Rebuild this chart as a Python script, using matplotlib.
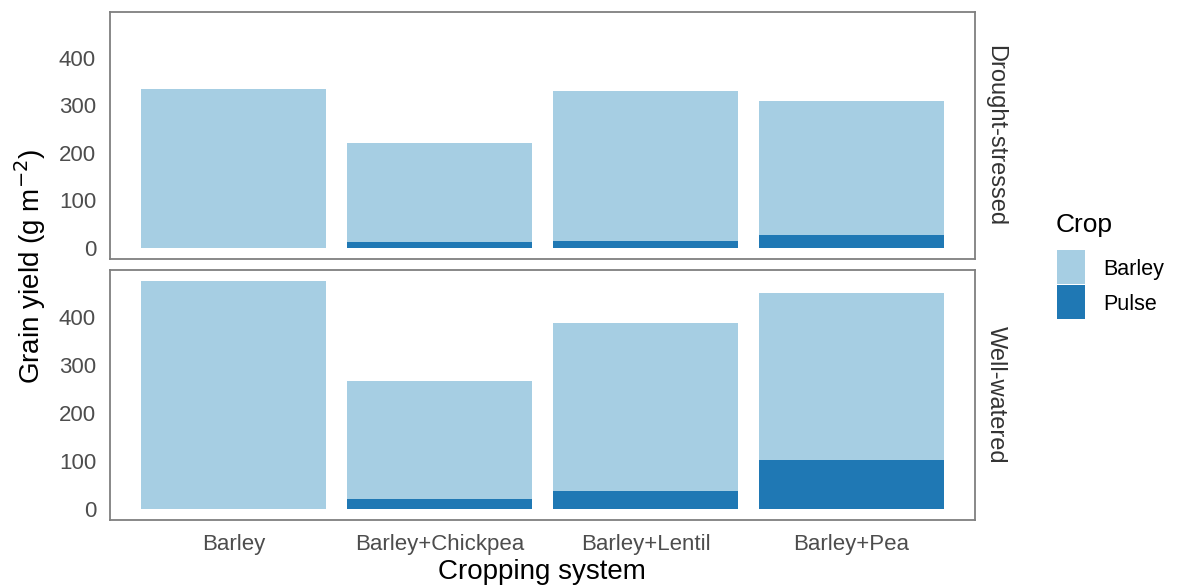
import matplotlib.pyplot as plt
import matplotlib.patches as mpatches
import numpy as np

plt.rcParams['font.family'] = ['Liberation Sans', 'DejaVu Sans']

systems = ['Barley', 'Barley+Chickpea', 'Barley+Lentil', 'Barley+Pea']
treatments = ['Drought-stressed', 'Well-watered']
crops = ['Barley', 'Pulse']
colors = {'Barley': '#a6cee3', 'Pulse': '#1f78b4'}

# grain yield (g m-2) per crop component
barley_yield = {'Drought-stressed': [335, 208, 316, 282],
                'Well-watered': [474, 245, 349, 347]}
pulse_yield = {'Drought-stressed': [0, 13, 15, 28],
               'Well-watered': [0, 21, 37, 102]}

W, H = 1179, 587
fig = plt.figure(figsize=(W / 100, H / 100), dpi=100)

def px_axes(x0, y0, x1, y1):
    return fig.add_axes([x0 / W, 1 - y1 / H, (x1 - x0) / W, (y1 - y0) / H])

panels = [(12, 259), (270, 520)]
edge = '#7f7f7f'
tick_col = '#4d4d4d'
x = np.arange(1, len(systems) + 1)

for i, (trt, (top, bot)) in enumerate(zip(treatments, panels)):
    ax = px_axes(110, top, 975, bot)
    p = np.array(pulse_yield[trt])
    b = np.array(barley_yield[trt])
    ax.bar(x, p, width=0.9, color=colors['Pulse'], linewidth=0)
    ax.bar(x, b, bottom=p, width=0.9, color=colors['Barley'], linewidth=0)
    ax.set_xlim(0.4, 4.6)
    ax.set_ylim(-23.5, 497)
    ax.set_yticks([0, 100, 200, 300, 400])
    ax.tick_params(axis='y', length=0, labelsize=16, labelcolor=tick_col, pad=10)
    for s in ax.spines.values():
        s.set_color(edge)
        s.set_linewidth(1.3)
    if i == 1:
        ax.set_xticks(x)
        ax.set_xticklabels(systems)
        ax.tick_params(axis='x', length=0, labelsize=16, labelcolor=tick_col, pad=10)
    else:
        ax.set_xticks([])
    ax.text(1.011, 0.5, trt, transform=ax.transAxes, rotation=-90,
            ha='left', va='center', fontsize=17, color='#333333')

fig.text(30 / W, 1 - 266 / H, r'Grain yield (g m$^{-2}$)', rotation=90,
         ha='center', va='center', fontsize=20)
fig.text(542 / W, 1 - 572 / H, 'Cropping system', ha='center', va='center',
         fontsize=20)

# legend
fig.text(1056 / W, 1 - 225 / H, 'Crop', ha='left', va='center', fontsize=19)
for k, crop in enumerate(crops):
    y0 = 250 + k * 35
    fig.patches.append(mpatches.Rectangle((1057 / W, 1 - (y0 + 34) / H), 28 / W, 34 / H,
                                          transform=fig.transFigure,
                                          color=colors[crop], linewidth=0))
    fig.text(1103 / W, 1 - (y0 + 19) / H, crop, ha='left', va='center', fontsize=15.5)

fig.savefig('out.png', dpi=100)
